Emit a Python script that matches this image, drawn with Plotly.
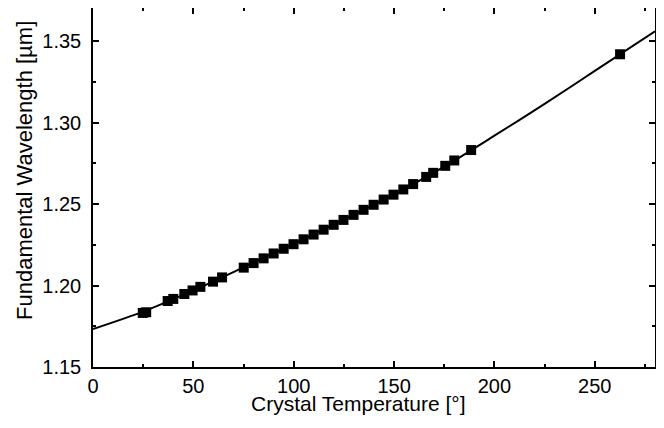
import plotly.graph_objects as go

# Measured data points (crystal temperature, fundamental wavelength)
temp = [24.8, 26.5, 37.2, 40.0, 45.5, 49.6, 53.5, 59.8, 64.3, 75.1, 80.0, 85.0,
        90.0, 95.0, 99.9, 104.9, 109.9, 114.9, 119.9, 124.8, 129.8, 134.8, 139.8,
        144.8, 149.7, 154.6, 159.5, 166.0, 169.5, 175.5, 180.0, 188.4, 262.6]
wavelength = [1.1832, 1.1836, 1.1905, 1.1918, 1.1948, 1.1970, 1.1992, 1.2024,
              1.2050, 1.2110, 1.2138, 1.2167, 1.2197, 1.2226, 1.2254, 1.2284,
              1.2313, 1.2343, 1.2373, 1.2403, 1.2434, 1.2465, 1.2496, 1.2528,
              1.2558, 1.2590, 1.2623, 1.2667, 1.2692, 1.2735, 1.2768, 1.2832, 1.3420]

# Fit curve
fit_temp = [0, 25, 50, 75, 100, 125, 150, 175, 200, 225, 250, 280]
fit_wavelength = [1.1733, 1.1840, 1.1970, 1.2112, 1.2256, 1.2405, 1.2560,
                  1.2730, 1.2920, 1.3115, 1.3318, 1.3561]

x_ticks = [0, 50, 100, 150, 200, 250]
y_ticks = [1.15, 1.20, 1.25, 1.30, 1.35]
x_title = "Crystal Temperature [°]"
y_title = "Fundamental Wavelength [µm]"

FONT = "Arial, Liberation Sans, Helvetica, sans-serif"

fig = go.Figure()
fig.add_trace(go.Scatter(
    x=fit_temp, y=fit_wavelength, mode="lines",
    line=dict(color="black", width=2, shape="spline", smoothing=0.8),
    hoverinfo="skip", showlegend=False))
fig.add_trace(go.Scatter(
    x=temp, y=wavelength, mode="markers",
    marker=dict(symbol="square", size=10, color="black", line=dict(width=0)),
    showlegend=False))

axis_common = dict(
    showgrid=False, zeroline=False, showline=True, linecolor="black", linewidth=1.5,
    mirror="allticks", ticks="inside", ticklen=6, tickwidth=1.5, tickcolor="black",
    tickfont=dict(family=FONT, size=20, color="black"), automargin=False,
)

fig.update_xaxes(
    range=[0, 280], tickvals=x_ticks, ticktext=[str(v) for v in x_ticks],
    minor=dict(ticks="inside", dtick=25, tick0=0, ticklen=3, tickwidth=1.5, tickcolor="black"),
    ticklabelstandoff=0,
    **axis_common)
fig.update_yaxes(
    range=[1.15, 1.3704], tickvals=y_ticks, ticktext=[f"{v:.2f}" for v in y_ticks],
    minor=dict(ticks="inside", dtick=0.025, tick0=1.15, ticklen=3, tickwidth=1.5, tickcolor="black"),
    ticklabelstandoff=6,
    **axis_common)

# Axis titles as annotations (offset from centre as in the reference)
fig.add_annotation(
    text=x_title, xref="paper", yref="paper", x=0.473, y=0,
    xanchor="center", yanchor="middle", yshift=-36, showarrow=False,
    font=dict(family=FONT, size=21, color="black"))
fig.add_annotation(
    text=y_title, xref="paper", yref="paper", x=0, y=0.546, textangle=-90,
    xanchor="center", yanchor="middle", xshift=-68, showarrow=False,
    font=dict(family=FONT, size=22, color="black"))

fig.update_layout(
    width=648, height=412,
    margin=dict(l=85, r=1, t=0, b=53),
    paper_bgcolor="white", plot_bgcolor="white",
    font=dict(family=FONT, color="black"),
)

fig.write_html("out.html")
